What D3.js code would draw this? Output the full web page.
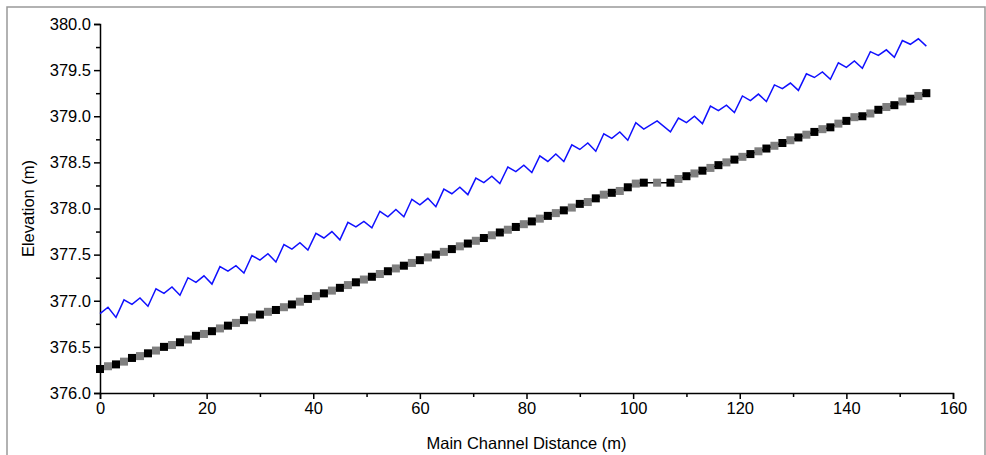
<!DOCTYPE html>
<html>
<head>
<meta charset="utf-8">
<script src="https://cdn.jsdelivr.net/npm/d3@7"></script>
<style>
  body { margin: 0; background: #fff; }
  svg { display: block; font-family: Arial, "Liberation Sans", sans-serif; }
</style>
</head>
<body>
<div class="canvas"></div>
<script>
// stations along the main channel (m)
const stations = [
  0, 1.5, 3, 4.5, 6, 7.5, 9, 10.5, 12, 13.5, 15, 16.5, 18, 19.5, 21, 22.5, 24, 25.5, 27, 28.5,
  30, 31.5, 33, 34.5, 36, 37.5, 39, 40.5, 42, 43.5, 45, 46.5, 48, 49.5, 51, 52.5, 54, 55.5, 57, 58.5,
  60, 61.5, 63, 64.5, 66, 67.5, 69, 70.5, 72, 73.5, 75, 76.5, 78, 79.5, 81, 82.5, 84, 85.5, 87, 88.5,
  90, 91.5, 93, 94.5, 96, 97.5, 99, 100.5, 102, 104.5, 107, 108.5, 110, 111.5, 113, 114.5, 116, 117.5,
  119, 120.5, 122, 123.5, 125, 126.5, 128, 129.5, 131, 132.5, 134, 135.5, 137, 138.5, 140, 141.5, 143,
  144.5, 146, 147.5, 149, 150.5, 152, 153.5, 155
];

// water surface (blue line)
const waterElev = [
  376.86, 376.93, 376.82, 377.01, 376.96, 377.03, 376.94, 377.13, 377.08, 377.15, 377.06, 377.25,
  377.20, 377.27, 377.18, 377.37, 377.32, 377.38, 377.30, 377.49, 377.44, 377.51, 377.42, 377.61,
  377.56, 377.63, 377.55, 377.73, 377.68, 377.75, 377.66, 377.85, 377.80, 377.86, 377.79, 377.97,
  377.91, 377.99, 377.91, 378.10, 378.04, 378.11, 378.02, 378.21, 378.16, 378.23, 378.15, 378.33,
  378.28, 378.35, 378.27, 378.45, 378.40, 378.47, 378.39, 378.57, 378.51, 378.59, 378.51, 378.69,
  378.64, 378.71, 378.62, 378.81, 378.76, 378.83, 378.74, 378.93, 378.86, 378.95, 378.83, 378.98,
  378.93, 379.00, 378.92, 379.11, 379.06, 379.12, 379.04, 379.22, 379.17, 379.24, 379.16, 379.34,
  379.30, 379.36, 379.28, 379.46, 379.42, 379.48, 379.40, 379.58, 379.53, 379.60, 379.52, 379.70,
  379.66, 379.72, 379.64, 379.82, 379.78, 379.84, 379.76
];

// channel bed (squares)
const bedElev = [
  376.26, 376.29, 376.31, 376.34, 376.38, 376.40, 376.43, 376.46, 376.50, 376.52, 376.55, 376.58,
  376.62, 376.64, 376.67, 376.70, 376.73, 376.76, 376.79, 376.82, 376.85, 376.88, 376.90, 376.93,
  376.96, 376.99, 377.02, 377.05, 377.08, 377.11, 377.14, 377.17, 377.20, 377.23, 377.26, 377.29,
  377.32, 377.35, 377.38, 377.41, 377.44, 377.47, 377.50, 377.53, 377.56, 377.59, 377.62, 377.65,
  377.68, 377.71, 377.74, 377.77, 377.80, 377.83, 377.86, 377.89, 377.92, 377.95, 377.98, 378.01,
  378.05, 378.07, 378.11, 378.15, 378.17, 378.19, 378.23, 378.27, 378.28, 378.28, 378.28, 378.32,
  378.35, 378.38, 378.41, 378.44, 378.47, 378.50, 378.53, 378.56, 378.59, 378.62, 378.65, 378.68,
  378.71, 378.74, 378.77, 378.80, 378.83, 378.86, 378.88, 378.92, 378.95, 378.99, 379.00, 379.03,
  379.07, 379.10, 379.12, 379.16, 379.19, 379.22, 379.25
];

const xTicks = [0, 20, 40, 60, 80, 100, 120, 140, 160];
const yTicks = [376.0, 376.5, 377.0, 377.5, 378.0, 378.5, 379.0, 379.5, 380.0];

const width = 986, height = 455;
const svg = d3.select('.canvas')
  .append('svg')
    .attr('width', width)
    .attr('height', height);

// outer frame
svg.append('rect')
  .attr('x', 7).attr('y', 7)
  .attr('width', 978).attr('height', 460)
  .attr('fill', 'none')
  .attr('stroke', '#999')
  .attr('stroke-width', 1.5);

const margin = {top: 24, left: 100, right: 33, bottom: 62};
const graphWidth = width - margin.left - margin.right;   // 853
const graphHeight = height - margin.top - margin.bottom; // 369

const graph = svg.append('g')
  .attr('transform', `translate(${margin.left},${margin.top})`);

const x = d3.scaleLinear().domain([0, 160]).range([0, graphWidth]);
const y = d3.scaleLinear().domain([376, 380]).range([graphHeight, 0]);

// minor ticks
const xMinor = d3.range(10, 160, 20);
const yMinor = d3.range(376.25, 380, 0.5);

const xAxisGroup = graph.append('g')
  .attr('transform', `translate(0, ${graphHeight})`);
xAxisGroup.call(d3.axisBottom(x).tickValues(xTicks).tickSize(6).tickPadding(3).tickFormat(d3.format('d')));
xAxisGroup.append('g').call(d3.axisBottom(x).tickValues(xMinor).tickSize(4).tickFormat(''))
  .select('.domain').remove();

const yAxisGroup = graph.append('g');
yAxisGroup.call(d3.axisLeft(y).tickValues(yTicks).tickSize(6).tickPadding(3).tickFormat(d3.format('.1f')));
yAxisGroup.append('g').call(d3.axisLeft(y).tickValues(yMinor).tickSize(4).tickFormat(''))
  .select('.domain').remove();

[xAxisGroup, yAxisGroup].forEach(g => {
  g.selectAll('.domain').attr('stroke', '#000').attr('stroke-width', 1.5);
  g.selectAll('.tick line').attr('stroke', '#000').attr('stroke-width', 1.5);
  g.selectAll('.tick text')
    .attr('fill', '#000')
    .style('font-size', '16.5px')
    .style('font-family', 'Arial, "Liberation Sans", sans-serif');
});

// axis titles
svg.append('text')
  .attr('x', margin.left + graphWidth / 2)
  .attr('y', 449)
  .attr('text-anchor', 'middle')
  .style('font-size', '16.5px')
  .text('Main Channel Distance (m)');

svg.append('text')
  .attr('transform', `translate(34, ${margin.top + graphHeight / 2}) rotate(-90)`)
  .attr('text-anchor', 'middle')
  .style('font-size', '16.5px')
  .text('Elevation (m)');

const pts = stations.map((s, i) => ({s, w: waterElev[i], b: bedElev[i], i}));

// water surface line
graph.append('path')
  .datum(pts)
  .attr('fill', 'none')
  .attr('stroke', '#1010ff')
  .attr('stroke-width', 1.5)
  .attr('d', d3.line().x(d => x(d.s)).y(d => y(d.w)));

// bed line
graph.append('path')
  .datum(pts)
  .attr('fill', 'none')
  .attr('stroke', '#000')
  .attr('stroke-width', 1.5)
  .attr('d', d3.line().x(d => x(d.s)).y(d => y(d.b)));

const sq = 8;
// gray squares first, black on top
graph.selectAll('rect.gray')
  .data(pts.filter(d => d.i % 2 === 1))
  .enter()
  .append('rect')
    .attr('class', 'gray')
    .attr('x', d => x(d.s) - sq / 2)
    .attr('y', d => y(d.b) - sq / 2)
    .attr('width', sq)
    .attr('height', sq)
    .attr('fill', '#808080');

graph.selectAll('rect.black')
  .data(pts.filter(d => d.i % 2 === 0))
  .enter()
  .append('rect')
    .attr('class', 'black')
    .attr('x', d => x(d.s) - sq / 2)
    .attr('y', d => y(d.b) - sq / 2)
    .attr('width', sq)
    .attr('height', sq)
    .attr('fill', '#000');
</script>
</body>
</html>
